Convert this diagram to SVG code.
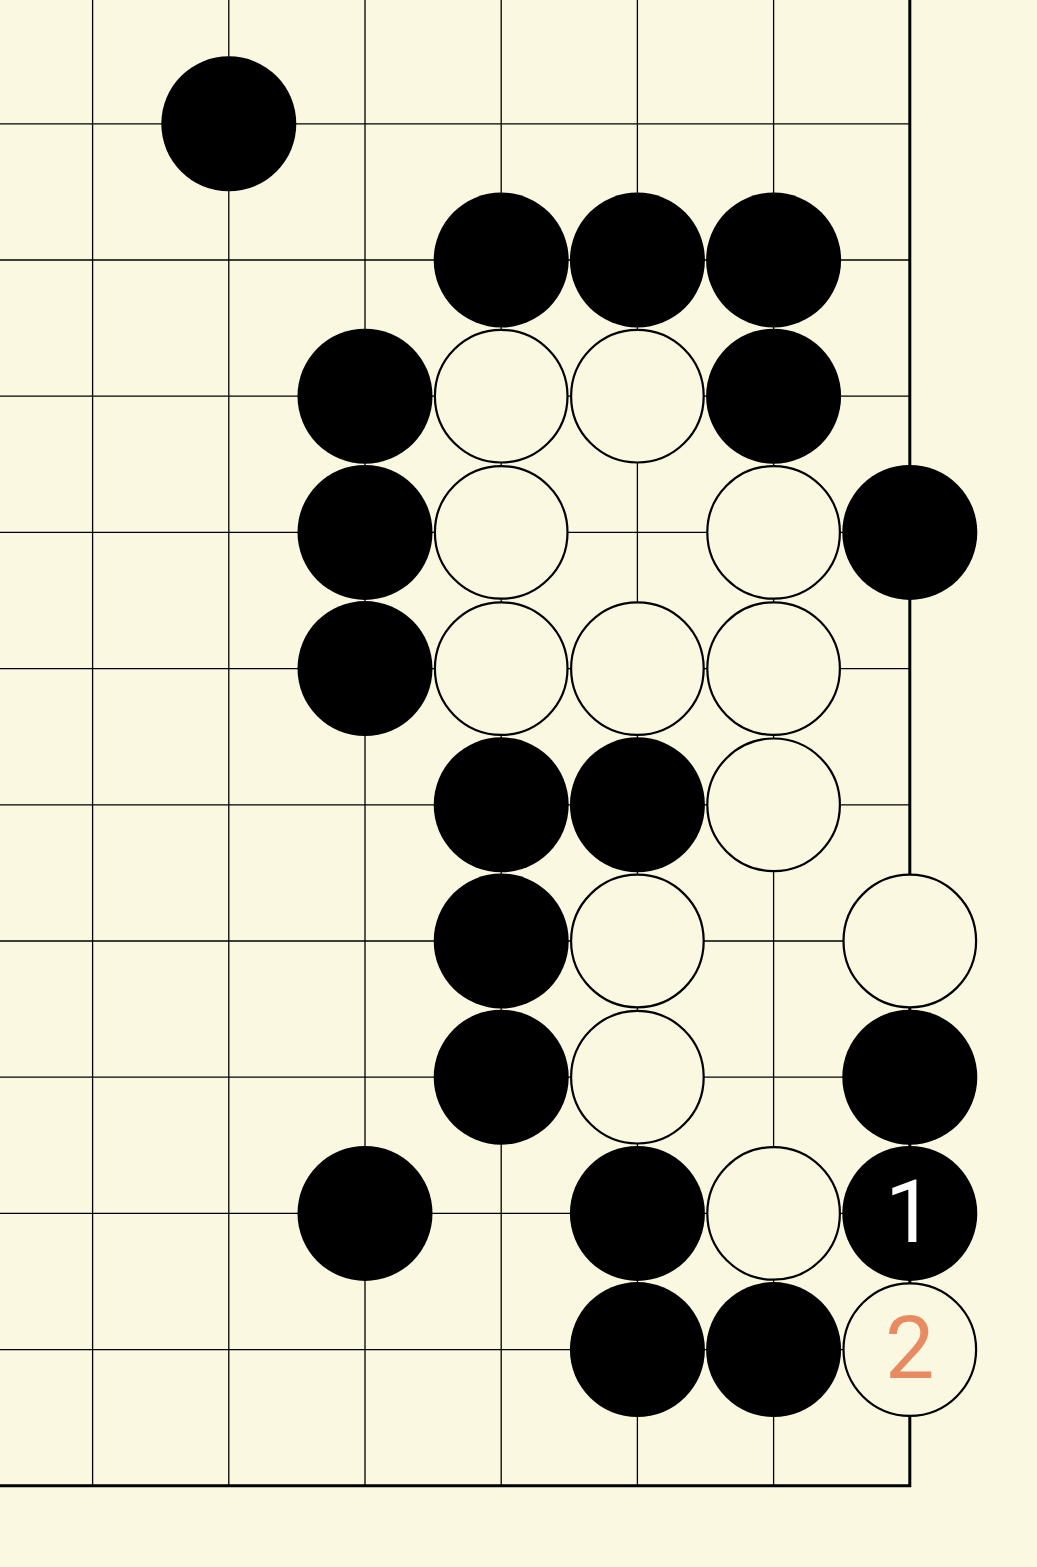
<svg xmlns="http://www.w3.org/2000/svg" width="1037" height="1567" viewBox="0 0 1037 1567">
<style>
.g{stroke:#000;stroke-width:1.3;fill:none}
.edge{stroke:#000;stroke-width:3;fill:none}
.b{fill:#000}
.w{fill:#FAF8E0;stroke:#000;stroke-width:2.2}
.n{font-family:Roboto,"Liberation Sans",sans-serif;font-size:88px;text-anchor:middle}
</style>
<rect width="1037" height="1567" fill="#FAF8E0"/>
<g id="grid">
<path class="g" d="M92.6 0V1486M228.8 0V1486M365 0V1486M501.2 0V1486M637.4 0V1486M773.6 0V1486"/>
<path class="g" d="M0 123.8H910M0 260H910M0 396.2H910M0 532.4H910M0 668.6H910M0 804.8H910M0 941H910M0 1077.2H910M0 1213.4H910M0 1349.6H910"/>
<path class="edge" d="M909.8 0V1485.8H0"/>
</g>
<g id="stones">
<circle class="b" cx="228.8" cy="123.8" r="67.5"/>
<circle class="b" cx="501.2" cy="260" r="67.5"/>
<circle class="b" cx="637.4" cy="260" r="67.5"/>
<circle class="b" cx="773.6" cy="260" r="67.5"/>
<circle class="b" cx="365" cy="396.2" r="67.5"/>
<circle class="w" cx="501.2" cy="396.2" r="66.3"/>
<circle class="w" cx="637.4" cy="396.2" r="66.3"/>
<circle class="b" cx="773.6" cy="396.2" r="67.5"/>
<circle class="b" cx="365" cy="532.4" r="67.5"/>
<circle class="w" cx="501.2" cy="532.4" r="66.3"/>
<circle class="w" cx="773.6" cy="532.4" r="66.3"/>
<circle class="b" cx="909.8" cy="532.4" r="67.5"/>
<circle class="b" cx="365" cy="668.6" r="67.5"/>
<circle class="w" cx="501.2" cy="668.6" r="66.3"/>
<circle class="w" cx="637.4" cy="668.6" r="66.3"/>
<circle class="w" cx="773.6" cy="668.6" r="66.3"/>
<circle class="b" cx="501.2" cy="804.8" r="67.5"/>
<circle class="b" cx="637.4" cy="804.8" r="67.5"/>
<circle class="w" cx="773.6" cy="804.8" r="66.3"/>
<circle class="b" cx="501.2" cy="941" r="67.5"/>
<circle class="w" cx="637.4" cy="941" r="66.3"/>
<circle class="w" cx="909.8" cy="941" r="66.3"/>
<circle class="b" cx="501.2" cy="1077.2" r="67.5"/>
<circle class="w" cx="637.4" cy="1077.2" r="66.3"/>
<circle class="b" cx="909.8" cy="1077.2" r="67.5"/>
<circle class="b" cx="365" cy="1213.4" r="67.5"/>
<circle class="b" cx="637.4" cy="1213.4" r="67.5"/>
<circle class="w" cx="773.6" cy="1213.4" r="66.3"/>
<g id="move1"><circle class="b" cx="909.8" cy="1213.4" r="67.5"/><text class="n" x="909.8" y="1242" fill="#FFFFFF">1</text></g>
<circle class="b" cx="637.4" cy="1349.6" r="67.5"/>
<circle class="b" cx="773.6" cy="1349.6" r="67.5"/>
<g id="move2"><circle class="w" cx="909.8" cy="1349.6" r="66.3"/><text class="n" x="909.8" y="1378" fill="#E88B62">2</text></g>
</g>
</svg>
